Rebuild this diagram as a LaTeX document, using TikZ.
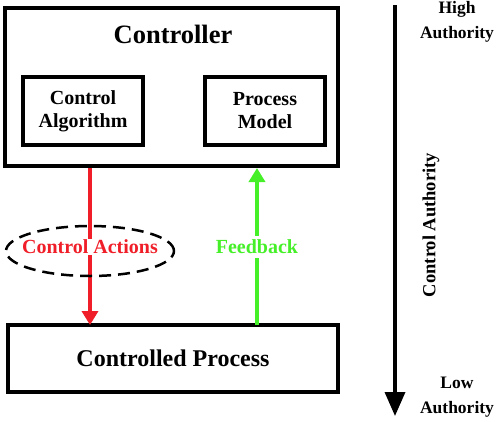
\documentclass[tikz,border=0pt]{standalone}
\usepackage{fontspec}
\setmainfont{Liberation Serif}[BoldFont={Liberation Serif Bold}]
\usetikzlibrary{arrows.meta,shapes.geometric}
\definecolor{cared}{RGB}{240,30,40}
\definecolor{fbgreen}{RGB}{70,240,40}
\begin{document}
\begin{tikzpicture}[x=1pt,y=-1pt,
  box/.style={draw=black,line width=3.8pt,fill=white},
  lbl/.style={font=\rmfamily\bfseries,align=center,inner sep=1pt},
  flow/.style={line width=3.5pt,-{Triangle[length=14pt,width=16pt]}}]
\useasboundingbox (0,0) rectangle (498,421);
% controller
\draw[box] (5,8) rectangle (338,166);
\node[lbl,font=\rmfamily\bfseries\fontsize{26.5}{28}\selectfont] (ctrl) at (173,34) {Controller};
\node[box,minimum width=120pt,minimum height=68pt,font=\rmfamily\bfseries\fontsize{20}{23}\selectfont,align=center,inner sep=1pt] (alg) at (83,111) {Control\\Algorithm};
\node[box,minimum width=120pt,minimum height=68pt,font=\rmfamily\bfseries\fontsize{20}{23}\selectfont,align=center,inner sep=1pt] (pm) at (265,111) {Process\\Model};
% controlled process
\node[box,minimum width=330pt,minimum height=67pt,font=\rmfamily\bfseries\fontsize{24}{26}\selectfont,inner sep=1pt] (cp) at (173,358.5) {Controlled Process};
% coordinates
\coordinate (ctop) at (90,168);
\coordinate (cbot) at (90,325);
\coordinate (ftop) at (257,168);
\coordinate (fbot) at (257,325);
% arrows
\draw[flow,draw=cared,fill=cared] (ctop) -- (cbot);
\draw[flow,draw=fbgreen,fill=fbgreen] (fbot) -- (ftop);
% ellipse and labels
\node[draw=black,dashed,dash pattern=on 12pt off 7pt,line width=2.5pt,ellipse,minimum width=168pt,minimum height=50pt] (ell) at (90,251) {};
\node[lbl,text=cared,fill=white,font=\rmfamily\bfseries\fontsize{20}{22}\selectfont] (ca) at (90,247) {Control Actions};
\node[lbl,text=fbgreen,fill=white,inner ysep=4pt,font=\rmfamily\bfseries\fontsize{20}{22}\selectfont] (fb) at (257,247) {Feedback};
% authority axis
\coordinate (atop) at (395,5);
\coordinate (abot) at (395,416);
\draw[line width=3.5pt,-{Triangle[length=24pt,width=20pt]}] (atop) -- (abot);
\node[lbl,font=\rmfamily\bfseries\fontsize{17.5}{25}\selectfont] (hi) at (457,22) {High\\Authority};
\node[lbl,font=\rmfamily\bfseries\fontsize{17.5}{25}\selectfont] (lo) at (457,397) {Low\\Authority};
\node[lbl,rotate=90,font=\rmfamily\bfseries\fontsize{18.5}{20}\selectfont] (caut) at (431,225) {Control Authority};
\end{tikzpicture}
\end{document}
